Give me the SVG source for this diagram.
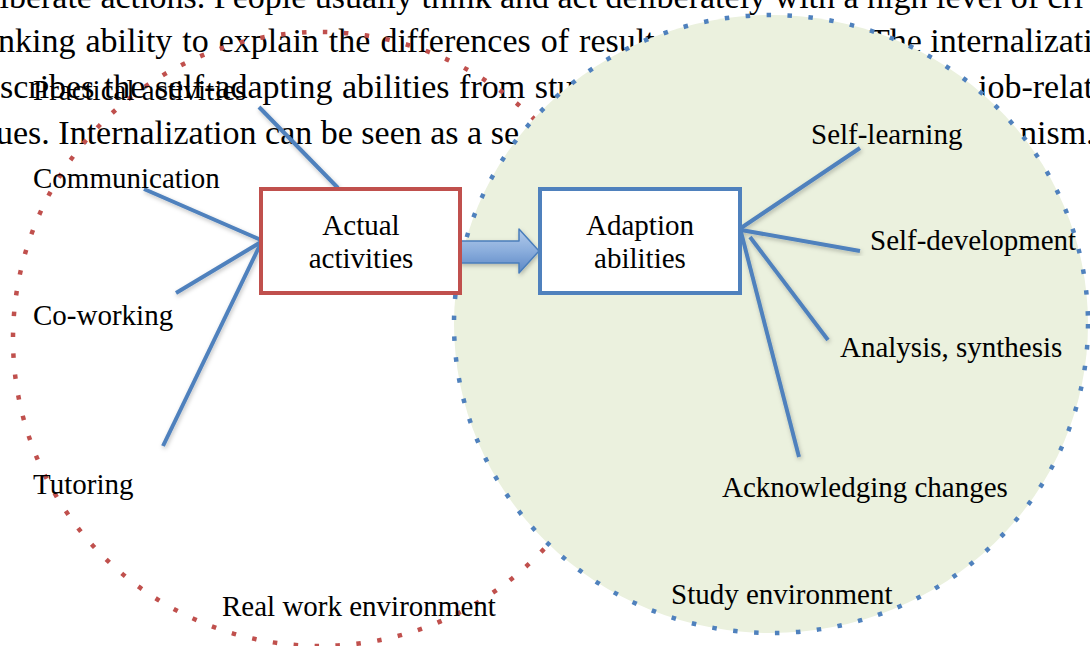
<svg xmlns="http://www.w3.org/2000/svg" width="1090" height="646" viewBox="0 0 1090 646">
<style>
.bg{font-family:"Liberation Serif","Times New Roman",serif;font-size:34px;fill:#000}
.lbl{font-family:"Liberation Serif","Times New Roman",serif;font-size:29px;fill:#000}
.c{text-anchor:middle}
.ln{stroke:#4F81BD;stroke-width:4;fill:none;filter:url(#sh)}
.dot{stroke-width:4.5;stroke-dasharray:4.5 16.5}
</style>
<defs>
<filter id="sh" x="-20%" y="-20%" width="140%" height="140%">
<feDropShadow dx="1" dy="2" stdDeviation="2" flood-color="#000" flood-opacity="0.25"/>
</filter>
<linearGradient id="ag" x1="0" y1="0" x2="0" y2="1">
<stop offset="0" stop-color="#B3CBEB"/>
<stop offset="0.5" stop-color="#8AADDC"/>
<stop offset="1" stop-color="#5B87C5"/>
</linearGradient>
</defs>
<rect width="1090" height="646" fill="#fff"/>
<g id="background-text">
<text class="bg" x="-10" y="8">liberate actions. People usually think and act deliberately with a high level of cri</text>
<text class="bg" x="-2" y="52" word-spacing="1.5">nking ability to explain the differences of result</text>
<text class="bg" x="869" y="52">The internalization</text>
<text class="bg" x="0" y="98" word-spacing="1">scribes the self-adapting abilities from stu</text>
<text class="bg" x="978" y="98">job-related</text>
<text class="bg" x="-4" y="144">ues. Internalization can be seen as a se</text>
<text class="bg" x="1020" y="144">nism.</text>
</g>
<g id="real-work-environment">
<circle class="dot" cx="320" cy="339" r="307" fill="none" stroke="#C0504D"/>
<text class="lbl" x="222" y="616">Real work environment</text>
</g>
<g id="study-environment">
<ellipse class="dot" cx="771" cy="324" rx="317" ry="309" fill="#EBF1DE" stroke="#4F81BD"/>
<text class="lbl" x="671" y="604">Study environment</text>
</g>
<g id="connectors">
<line class="ln" x1="259" y1="107" x2="338" y2="188"/>
<line class="ln" x1="144" y1="189" x2="261" y2="240"/>
<line class="ln" x1="176" y1="293" x2="261" y2="242"/>
<line class="ln" x1="163" y1="446" x2="261" y2="243"/>
<line class="ln" x1="741" y1="228" x2="860" y2="148"/>
<line class="ln" x1="741" y1="230" x2="860" y2="251"/>
<line class="ln" x1="750" y1="237" x2="828" y2="340"/>
<line class="ln" x1="741" y1="232" x2="799" y2="457"/>
<path d="M460,241 H519 V229 L539,251 L519,273 V263 H460 Z" fill="url(#ag)" stroke="#4A7EBB" stroke-width="1.5" stroke-linejoin="round" filter="url(#sh)"/>
</g>
<g id="actual-activities">
<rect x="261" y="189" width="199" height="104" fill="#fff" stroke="#C0504D" stroke-width="4"/>
<text class="lbl c" x="361" y="235">Actual</text>
<text class="lbl c" x="361" y="268">activities</text>
</g>
<g id="adaption-abilities">
<rect x="540" y="189" width="200" height="104" fill="#fff" stroke="#4F81BD" stroke-width="4"/>
<text class="lbl c" x="640" y="235">Adaption</text>
<text class="lbl c" x="640" y="268">abilities</text>
</g>
<g id="practical-activities"><text class="lbl" x="33" y="100">Practical activities</text></g>
<g id="communication"><text class="lbl" x="33" y="188">Communication</text></g>
<g id="co-working"><text class="lbl" x="33" y="325">Co-working</text></g>
<g id="tutoring"><text class="lbl" x="33" y="494">Tutoring</text></g>
<g id="self-learning"><text class="lbl" x="811" y="144">Self-learning</text></g>
<g id="self-development"><text class="lbl" x="870" y="250">Self-development</text></g>
<g id="analysis-synthesis"><text class="lbl" x="840" y="357">Analysis, synthesis</text></g>
<g id="acknowledging-changes"><text class="lbl" x="722" y="497">Acknowledging changes</text></g>
</svg>
